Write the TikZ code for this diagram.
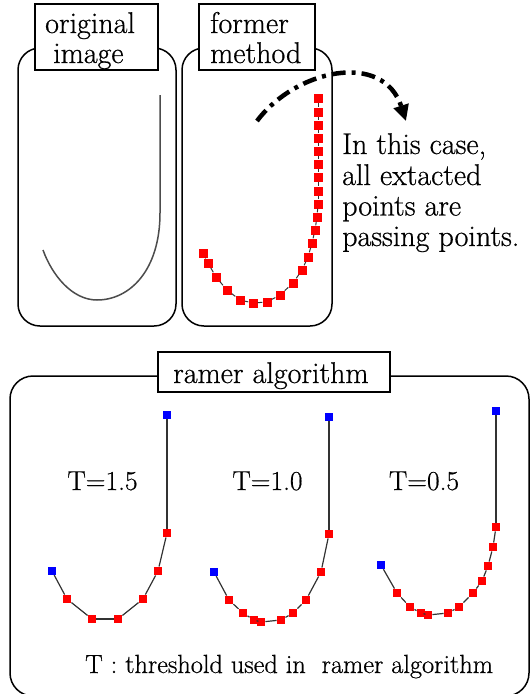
\documentclass[tikz,border=0pt]{standalone}
\usepackage{fontspec}
\setmainfont{Latin Modern Roman}[FakeBold=0.6]
\usetikzlibrary{arrows.meta}
\begin{document}
\begin{tikzpicture}[x=1pt,y=-1pt,
  frame/.style={draw=black, line width=1.5pt, rounded corners=22pt},
  labelbox/.style={draw=black, fill=white, line width=1.3pt, inner sep=0pt},
  txt/.style={anchor=base west, inner sep=0pt, font=\fontsize{30}{30}\selectfont},
  tlab/.style={anchor=base, inner sep=0pt, font=\fontsize{27.4}{30}\selectfont},
  rsq/.style={fill=red, minimum size=8.5pt, inner sep=0pt},
  bsq/.style={fill=blue, minimum size=8pt, inner sep=0pt},
  link/.style={draw=black!80, line width=1.2pt},
]
\useasboundingbox (0,0) rectangle (531,694);

% ---- original image ----
\draw[frame] (18,48) rectangle (176,326);
\node[labelbox, minimum width=123pt, minimum height=66pt] (lab1) at (96.5,37) {};
\node[txt] (t1a) at (45,33) {original};
\node[txt] (t1b) at (53,63) {image};
\draw[line width=1.5pt, black!70] (160,95) -- (160,213)
  .. controls (160,270) and (130,300) .. (97,300)
  .. controls (72,300) and (52,275) .. (43,250);

% ---- former method ----
\draw[frame] (182,48) rectangle (332,326);
\node[labelbox, minimum width=116pt, minimum height=66pt] (lab2) at (257,37) {};
\node[txt] (t2a) at (210,33) {former};
\node[txt] (t2b) at (210,63) {method};
\foreach \x/\y [count=\i] in {318/98,318/112,318/125,318/138,318/151,318/164,318/177,318/191,318/204,317/217,315/230,312/243,308/257,302/270,293/283,280/295,267/302,253/303,240/300,227/290,216/277,208/263,203/253}
  \node[rsq, minimum size=9pt] (f\i) at (\x,\y) {};
\foreach \i [evaluate=\i as \j using int(\i+1)] in {1,...,22}
  \draw[link, line width=1pt] (f\i) -- (f\j);

% dash-dot arrow
\draw[line width=4.5pt, dash pattern=on 14pt off 6pt on 4pt off 6pt,
  -{Triangle[length=16pt,width=15pt]}]
  (257,121) .. controls (295,70) and (383,50) .. (406,121);

\node[txt] (c1) at (342,154) {In this case,};
\node[txt] (c2) at (342,185) {all extacted};
\node[txt] (c3) at (342,215.5) {points are};
\node[txt] (c4) at (342,246) {passing points.};

% ---- ramer algorithm ----
\draw[frame, rounded corners=23pt] (10,376) rectangle (529,696);
\node[labelbox, minimum width=232pt, minimum height=40pt] (lab3) at (274,372) {};
\node[txt] (t3) at (173,383) {ramer algorithm};

% T=1.5
\node[tlab] (T1) at (102.5,490) {T=1.5};
\node[bsq] (a0) at (167,415) {};
\foreach \x/\y [count=\i] in {167/533,158/571,143/599,118/619,92/619,67/599}
  \node[rsq] (a\i) at (\x,\y) {};
\node[bsq] (aE) at (52,571) {};
\draw[link] (a0) -- (a1);
\foreach \i [evaluate=\i as \j using int(\i+1)] in {1,...,5}
  \draw[link] (a\i) -- (a\j);
\draw[link] (a6) -- (aE);

% T=1.0
\node[tlab] (T2) at (267.5,490) {T=1.0};
\node[bsq] (b0) at (329,417) {};
\foreach \x/\y [count=\i] in {329/534,321/572,306/600,293/613,281/620,261/622,254/620,243/613,229/600}
  \node[rsq] (b\i) at (\x,\y) {};
\node[bsq] (bE) at (214,572) {};
\draw[link] (b0) -- (b1);
\foreach \i [evaluate=\i as \j using int(\i+1)] in {1,...,8}
  \draw[link] (b\i) -- (b\j);
\draw[link] (b9) -- (bE);

% T=0.5
\node[tlab] (T3) at (424,490) {T=0.5};
\node[bsq] (c0) at (496,411) {};
\foreach \x/\y [count=\i] in {496/527,493/547,488/566,482/581,473/593,459/607,448/613,428/615,421/613,410/607,397/593}
  \node[rsq] (c\i) at (\x,\y) {};
\node[bsq] (cE) at (381,565) {};
\draw[link] (c0) -- (c1);
\foreach \i [evaluate=\i as \j using int(\i+1)] in {1,...,10}
  \draw[link] (c\i) -- (c\j);
\draw[link] (c11) -- (cE);

\node[anchor=base west, inner sep=0pt, font=\fontsize{26.3}{28}\selectfont] (note) at (85,673) {T : threshold used in~~ramer algorithm};
\end{tikzpicture}
\end{document}
